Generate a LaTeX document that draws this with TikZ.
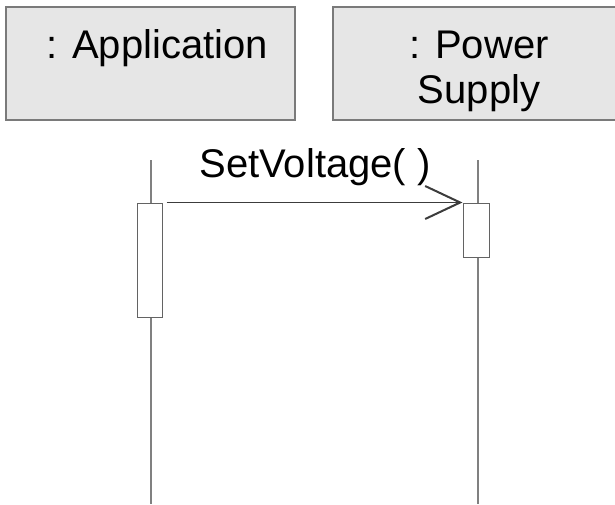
\documentclass[tikz,border=0pt]{standalone}
\usepackage{fontspec}
\setmainfont{Liberation Sans}
\usetikzlibrary{arrows.meta}
\definecolor{boxfill}{HTML}{E6E6E6}
\definecolor{boxline}{HTML}{7A7A7A}
\definecolor{lifegray}{HTML}{808080}
\definecolor{msggray}{HTML}{3C3C3C}
\begin{document}
\begin{tikzpicture}[x=1pt,y=-1pt,
  objbox/.style={draw=boxline,fill=boxfill,line width=1.5pt,inner sep=0pt},
  actbox/.style={draw=msggray!80,fill=white,line width=1pt,inner sep=0pt},
  lifeline/.style={draw=lifegray,line width=2pt},
  label/.style={font=\fontsize{40}{45}\selectfont,inner sep=0pt,anchor=base,text=black},
  msg/.style={draw=msggray,line width=1pt,-{Straight Barb[length=35pt,width=33pt,line width=2pt]}}]
\useasboundingbox (0,0) rectangle (615,504);
% object boxes
\node[objbox,minimum width=289pt,minimum height=113pt] (app) at (150.5,63.5) {};
\node[objbox,minimum width=283pt,minimum height=113pt] (ps) at (474.5,63.5) {};
\node[label] (apptxt) at (157,58) {: Application};
\node[label] (pstxt1) at (479,58) {: Power};
\node[label] (pstxt2) at (479,103) {Supply};
% lifelines
\coordinate (atop) at (151,160);
\coordinate (abot) at (151,504);
\coordinate (ptop) at (478,160);
\coordinate (pbot) at (478,504);
\draw[lifeline] (atop) -- (abot);
\draw[lifeline] (ptop) -- (pbot);
% activations
\node[actbox,minimum width=25pt,minimum height=114pt] (act1) at (149.5,260) {};
\node[actbox,minimum width=26pt,minimum height=54pt] (act2) at (476,230) {};
% message
\draw[msg] ([xshift=4pt]act1.north east) -- (act2.north west);
\node[label] (msgtxt) at (315,177) {SetVoltage( )};
\end{tikzpicture}
\end{document}
